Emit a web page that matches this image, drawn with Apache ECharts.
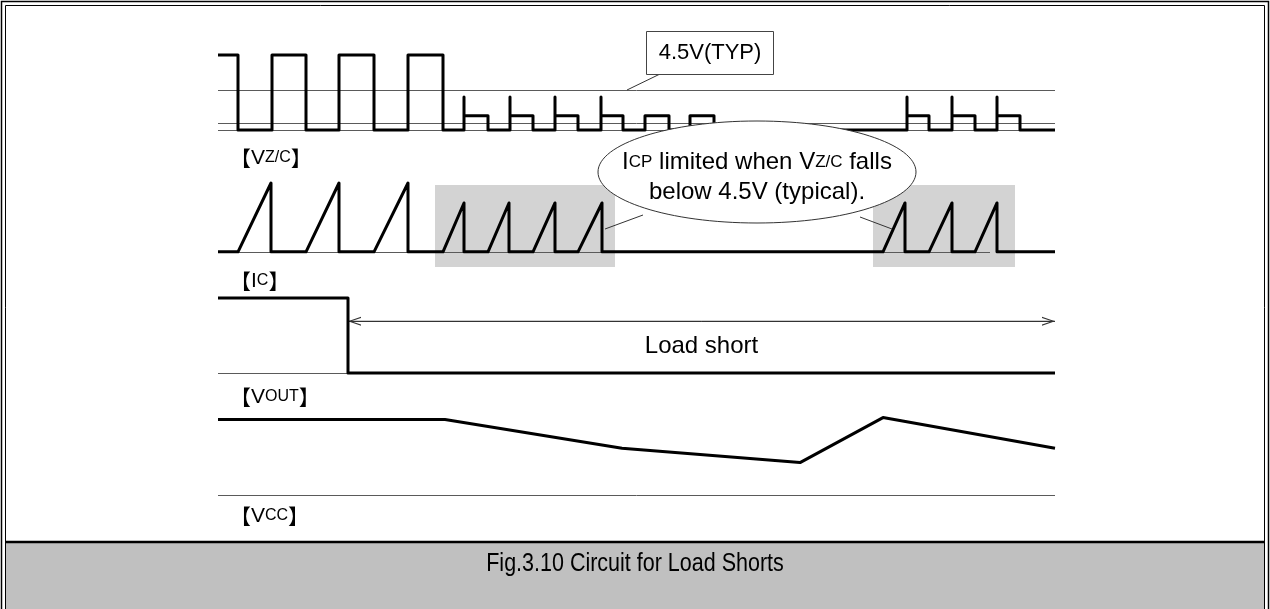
<!DOCTYPE html>
<html>
<head>
<meta charset="utf-8">
<script src="https://cdn.jsdelivr.net/npm/echarts/dist/echarts.min.js"></script>
<style>
  html, body { margin: 0; padding: 0; background: #fff; }
  #chart { width: 1270px; height: 609px; }
</style>
</head>
<body>
<div id="chart"></div>
<script>
// time axis: 0 .. 837 (arbitrary units)
const tEnd = 837;

// VZ/C pulses: [rise, fall, spike level, flat level]  (volts)
const vzcPulses = [
  [0, 20, 8.4, 8.4],
  [54, 88, 8.4, 8.4],
  [121, 156, 8.4, 8.4],
  [190, 225, 8.4, 8.4],
  [246, 270, 3.7, 1.6],
  [292, 315, 3.7, 1.6],
  [337, 360, 3.7, 1.6],
  [383, 405, 3.7, 1.6],
  [427, 451, 1.6, 1.6],
  [472, 496, 1.6, 1.6],
  [689, 711, 3.7, 1.6],
  [734, 757, 3.7, 1.6],
  [779, 802, 3.7, 1.6]
];
const vzcRefLines = [4.5, 0.75, 0];

// IC ramps: [start, peak time, peak level]
const icRamps = [
  [20, 53, 1], [88, 121, 1], [156, 190, 1],
  [225, 246, 0.71], [270, 291, 0.71], [315, 337, 0.71], [360, 384, 0.71],
  [665, 687, 0.71], [711, 734, 0.71], [757, 779, 0.71]
];
const icBoxes = [[217, 397], [655, 797]];
const icBaseEnd = 772;

// VOUT
const voutTime = [0, 130, 130, tEnd];
const voutLevel = [1, 1, 0, 0];
const shortSpan = [130, tEnd];
const shortLevel = 0.69;

// VCC
const vccTime = [0, 227, 404, 582, 665, tEnd];
const vccLevel = [0.84, 0.84, 0.52, 0.36, 0.86, 0.52];

function buildVzc() {
  const pts = [];
  vzcPulses.forEach(p => {
    if (p[0] > 0) pts.push([p[0], 0]);
    pts.push([p[0], p[2]]);
    if (p[2] !== p[3]) pts.push([p[0], p[3]]);
    pts.push([p[1], p[3]]);
    pts.push([p[1], 0]);
  });
  pts.push([tEnd, 0]);
  return pts;
}

function buildIc() {
  const pts = [[0, 0]];
  icRamps.forEach(r => {
    pts.push([r[0], 0]);
    pts.push([r[1], r[2]]);
    pts.push([r[1], 0]);
  });
  pts.push([tEnd, 0]);
  return pts;
}

const thick = { color: '#000', width: 3, join: 'round' };
const thin = { color: '#5a5a5a', width: 1, type: 'solid' };
const font = "'Liberation Sans', Arial, sans-serif";
const cjk = "'Noto Sans CJK JP', 'Noto Sans CJK SC', sans-serif";

// open arrow head, tip at the top
const chevron = 'path://M5,0 L10,10 L8.7,10 L5,2.4 L1.3,10 L0,10 Z';

function waveSeries(idx, data) {
  return {
    type: 'line', xAxisIndex: idx, yAxisIndex: idx, data: data,
    symbol: 'none', clip: false, silent: true, animation: false, z: 5,
    lineStyle: thick
  };
}

function refSeries(idx, lines) {
  return {
    type: 'line', xAxisIndex: idx, yAxisIndex: idx, data: [],
    symbol: 'none', silent: true, animation: false, z: 3,
    markLine: {
      silent: true, symbol: 'none', animation: false,
      label: { show: false },
      lineStyle: thin,
      data: lines
    }
  };
}

const labelRich = {
  b: { fontFamily: cjk, fontSize: 21, color: '#000' },
  v: { fontFamily: font, fontSize: 21, color: '#000' },
  s: { fontFamily: font, fontSize: 16, color: '#000' }
};

function sigLabel(y, main, sub) {
  return {
    type: 'text', x: 230, y: y, z: 20,
    style: {
      text: '{b|【}{v|' + main + '}{s|' + sub + '}{b|】}',
      rich: labelRich, verticalAlign: 'middle', align: 'left'
    }
  };
}

const chart = echarts.init(document.getElementById('chart'), null, { renderer: 'canvas' });

const grids = [
  { left: 218, width: 837, top: 55, height: 75 },
  { left: 218, width: 837, top: 183, height: 84 },
  { left: 218, width: 837, top: 298, height: 75 },
  { left: 218, width: 837, top: 405, height: 90 }
];
const yRanges = [[0, 8.4], [-0.22, 1], [0, 1], [0, 1]];

const option = {
  animation: false,
  backgroundColor: '#fff',
  grid: grids,
  xAxis: grids.map((g, i) => ({ gridIndex: i, type: 'value', min: 0, max: tEnd, show: false })),
  yAxis: yRanges.map((r, i) => ({ gridIndex: i, type: 'value', min: r[0], max: r[1], show: false })),
  series: [
    // VZ/C
    refSeries(0, vzcRefLines.map(v => ({ yAxis: v }))),
    waveSeries(0, buildVzc()),
    // IC
    {
      type: 'line', xAxisIndex: 1, yAxisIndex: 1, data: [], silent: true, z: 1,
      markArea: {
        silent: true,
        itemStyle: { color: '#d3d3d3' },
        data: icBoxes.map(b => [{ coord: [b[0], 0.97] }, { coord: [b[1], -0.22] }])
      }
    },
    refSeries(1, [[{ coord: [0, 0] }, { coord: [icBaseEnd, 0] }]]),
    waveSeries(1, buildIc()),
    // VOUT
    refSeries(2, [{ yAxis: 0 }]),
    {
      // "Load short" double arrow
      type: 'line', xAxisIndex: 2, yAxisIndex: 2, silent: true, z: 4, clip: false,
      lineStyle: { color: '#333', width: 1 },
      itemStyle: { color: '#333', borderWidth: 0 },
      symbol: chevron,
      symbolSize: [9, 13],
      symbolKeepAspect: false,
      data: [
        { value: [shortSpan[0], shortLevel], symbolRotate: 90, symbolOffset: [6.5, 0] },
        { value: [shortSpan[1], shortLevel], symbolRotate: -90, symbolOffset: [-6.5, 0] }
      ],
      markLine: {
        silent: true, symbol: 'none', animation: false,
        lineStyle: { color: '#333', width: 1, type: 'solid' },
        label: {
          show: true, formatter: 'Load short', position: 'insideMiddleBottom',
          distance: 13, color: '#000', fontSize: 24, fontFamily: font
        },
        data: [[{ coord: [shortSpan[0], shortLevel] }, { coord: [shortSpan[1], shortLevel] }]]
      }
    },
    waveSeries(2, voutTime.map((t, i) => [t, voutLevel[i]])),
    // VCC
    refSeries(3, [{ yAxis: 0 }]),
    waveSeries(3, vccTime.map((t, i) => [t, vccLevel[i]]))
  ],
  graphic: [
    // frame
    { type: 'rect', z: 0, shape: { x: 1.5, y: 1.5, width: 1267, height: 640 },
      style: { fill: null, stroke: '#000', lineWidth: 1.5 } },
    { type: 'rect', z: 0, shape: { x: 6, y: 543, width: 1258, height: 80 },
      style: { fill: '#c0c0c0', stroke: null } },
    { type: 'rect', z: 0, shape: { x: 5.5, y: 5.5, width: 1259, height: 640 },
      style: { fill: null, stroke: '#000', lineWidth: 1 } },
    { type: 'line', z: 0, shape: { x1: 5, y1: 542, x2: 1265, y2: 542 },
      style: { stroke: '#000', lineWidth: 2.5 } },
    { type: 'text', z: 20, x: 635, y: 564, scaleX: 0.86,
      style: { text: 'Fig.3.10 Circuit for Load Shorts', fill: '#000',
        font: "25px 'Liberation Sans', Arial, sans-serif",
        align: 'center', verticalAlign: 'middle' } },
    // 4.5V(TYP) callout
    { type: 'line', z: 15, shape: { x1: 627, y1: 90, x2: 660, y2: 74 },
      style: { stroke: '#333', lineWidth: 1 } },
    { type: 'rect', z: 15, shape: { x: 646.5, y: 31.5, width: 127, height: 43 },
      style: { fill: '#fff', stroke: '#444', lineWidth: 1 } },
    { type: 'text', z: 16, x: 710, y: 53,
      style: { text: '4.5V(TYP)', fill: '#000', font: '22px ' + font,
        align: 'center', verticalAlign: 'middle' } },
    // ICP callout
    { type: 'line', z: 15, shape: { x1: 605, y1: 229, x2: 643, y2: 215 },
      style: { stroke: '#333', lineWidth: 1 } },
    { type: 'line', z: 15, shape: { x1: 860, y1: 217, x2: 892, y2: 229 },
      style: { stroke: '#333', lineWidth: 1 } },
    { type: 'ellipse', z: 16, shape: { cx: 757, cy: 172, rx: 159, ry: 51 },
      style: { fill: '#fff', stroke: '#333', lineWidth: 1 } },
    { type: 'text', z: 17, x: 757, y: 177,
      style: {
        text: '{a|I}{s|CP}{a| limited when V}{s|Z/C}{a| falls}\n{a|below 4.5V (typical).}',
        align: 'center', verticalAlign: 'middle',
        rich: {
          a: { fontFamily: font, fontSize: 24, color: '#000', lineHeight: 30 },
          s: { fontFamily: font, fontSize: 17, color: '#000', lineHeight: 30 }
        }
      } },
    // signal names
    sigLabel(158, 'V', 'Z/C'),
    sigLabel(281, 'I', 'C'),
    sigLabel(397, 'V', 'OUT'),
    sigLabel(516, 'V', 'CC')
  ]
};

chart.setOption(option);
</script>
</body>
</html>
